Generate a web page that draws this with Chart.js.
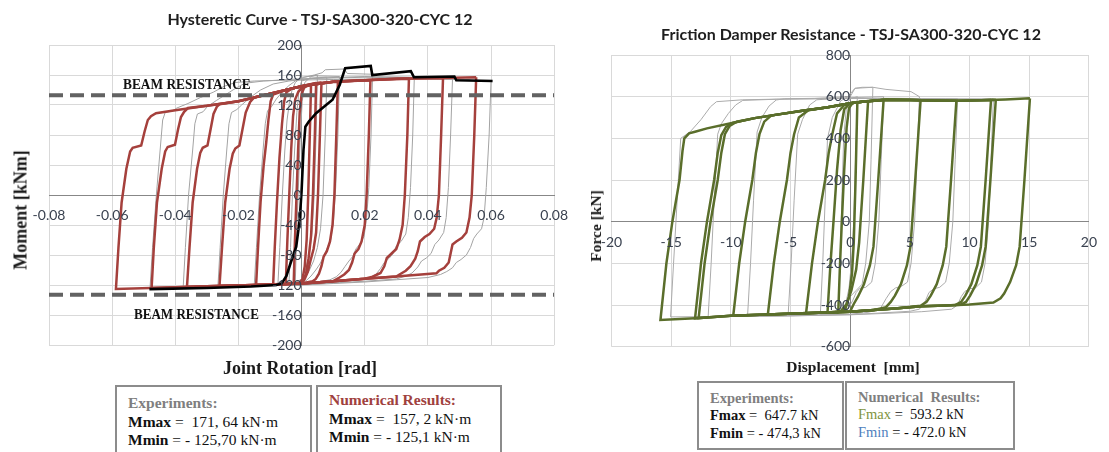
<!DOCTYPE html>
<html>
<head>
<meta charset="utf-8">
<script src="https://cdn.jsdelivr.net/npm/chart.js@4/dist/chart.umd.min.js"></script>
<style>
  html, body { margin: 0; padding: 0; background: #fff; }
  #page { position: relative; width: 1109px; height: 452px; overflow: hidden; background: #fff; }
  canvas { position: absolute; top: 0; }
  .c { position: absolute; white-space: pre; transform: translate(-50%, -50%); }
  .l { position: absolute; white-space: pre; transform: translateY(-50%); }
  .title { font-family: Lato, "Open Sans", sans-serif; font-weight: 700; font-size: 16px; color: #1e1e1e; }
  .axt { font-family: "Liberation Serif", serif; font-weight: 700; color: #1a1a1a; }
  .rot { transform: translate(-50%, -50%) rotate(-90deg); }
  .beam { font-family: "Liberation Serif", serif; font-weight: 700; font-size: 15px; color: #111;
          transform-origin: left center; }
  .box { position: absolute; border: 2px solid #8c8c8c; background: #fff; box-sizing: border-box; }
  .lg { font-family: "Liberation Serif", serif; color: #111; }
  .lg b { font-weight: 700; }
</style>
</head>
<body>
<div id="page">
  <canvas id="hyst" width="580" height="380" style="left:0px"></canvas>
  <canvas id="damper" width="529" height="380" style="left:580px"></canvas>

  <div class="c title" style="left:320px; top:18px;">Hysteretic Curve - TSJ-SA300-320-CYC 12</div>
  <div class="c title" style="left:851px; top:33px;">Friction Damper Resistance - TSJ-SA300-320-CYC 12</div>

  <div class="c axt" style="left:300px; top:368px; font-size:18px;">Joint Rotation [rad]</div>
  <div class="c axt rot" style="left:21px; top:210px; font-size:18px;">Moment [kNm]</div>
  <div class="c axt" style="left:853px; top:367px; font-size:15.5px;">Displacement  [mm]</div>
  <div class="c axt rot" style="left:596px; top:226px; font-size:15.5px;">Force [kN]</div>

  <div class="l beam" style="left:123px; top:84px; transform: translateY(-50%) scaleX(0.89);">BEAM RESISTANCE</div>
  <div class="l beam" style="left:134px; top:314px; transform: translateY(-50%) scaleX(0.87);">BEAM RESISTANCE</div>

  <!-- moment summary -->
  <div class="box" style="left:115px; top:385px; width:197px; height:80px;"></div>
  <div class="box" style="left:316px; top:385px; width:186px; height:80px;"></div>
  <div class="l lg" style="left:128px; top:403px; font-size:15.5px; color:#7f7f7f; font-weight:700;">Experiments:</div>
  <div class="l lg" style="left:128px; top:422px; font-size:15.5px;"><b>Mmax</b> =  171, 64 kN·m</div>
  <div class="l lg" style="left:128px; top:440px; font-size:15.5px;"><b>Mmin</b> = - 125,70 kN·m</div>
  <div class="l lg" style="left:329px; top:400px; font-size:15.5px; color:#a0413e; font-weight:700;">Numerical Results:</div>
  <div class="l lg" style="left:329px; top:419px; font-size:15.5px;"><b>Mmax</b> =  157, 2 kN·m</div>
  <div class="l lg" style="left:329px; top:437px; font-size:15.5px;"><b>Mmin</b> = - 125,1 kN·m</div>

  <!-- force summary -->
  <div class="box" style="left:697px; top:381px; width:147px; height:69px;"></div>
  <div class="box" style="left:845px; top:381px; width:170px; height:69px;"></div>
  <div class="l lg" style="left:710px; top:398px; font-size:14.5px; color:#7f7f7f; font-weight:700;">Experiments:</div>
  <div class="l lg" style="left:710px; top:415px; font-size:14.5px;"><b>Fmax</b> =  647.7 kN</div>
  <div class="l lg" style="left:710px; top:433px; font-size:14.5px;"><b>Fmin</b> = - 474,3 kN</div>
  <div class="l lg" style="left:858px; top:397px; font-size:14.5px; color:#7f7f7f; font-weight:700;">Numerical  Results:</div>
  <div class="l lg" style="left:858px; top:414px; font-size:14.5px;"><span style="color:#7f9441">Fmax</span> =  593.2 kN</div>
  <div class="l lg" style="left:858px; top:432px; font-size:14.5px;"><span style="color:#4f7fbd">Fmin</span> = - 472.0 kN</div>
</div>

<script>
// ---------- Hysteretic curve: joint rotation [rad] vs moment [kNm] ----------
const rotTicks = { min: -0.08, max: 0.08, step: 0.02 };
const momTicks = { min: -200, max: 200, step: 40 };
const beamResistance = 133;

// numerical model, one closed loop per amplitude
const redLoop1 = [[0.003,148],[0.0026,80],[0.0021,0],[0.0016,-60],[0.001,-95],[0.0003,-112],[-0.0005,-117],[-0.0025,-118.3],[-0.0021,-60],[-0.0016,0],[-0.0011,60],[-0.0006,110],[0,135],[0.0008,143],[0.003,148]];
const redLoop2 = [[0.0046,149.5],[0.0042,80],[0.0036,0],[0.003,-55],[0.0022,-85],[0.0014,-105],[0.0005,-114],[-0.001,-118.1],[-0.005,-118.6],[-0.0045,-60],[-0.0039,0],[-0.0033,60],[-0.0027,105],[-0.002,128],[-0.001,138],[0.001,146],[0.0046,149.5]];
const redLoop3 = [[0.0063,150],[0.0058,80],[0.0052,0],[0.0046,-50],[0.0038,-72],[0.0028,-88],[0.002,-102],[0.001,-112],[0,-118],[-0.009,-119],[-0.0085,-70],[-0.0078,-10],[-0.007,50],[-0.0062,95],[-0.0055,125],[-0.0048,137],[-0.003,142],[0,145],[0.0063,150]];
const redLoop4 = [[0.0115,151],[0.011,80],[0.0104,0],[0.0098,-40],[0.009,-62],[0.008,-75],[0.007,-82],[0.0063,-95],[0.0055,-105],[0.0045,-112],[0.0035,-115],[0,-118],[-0.0144,-119.9],[-0.0138,-70],[-0.013,-10],[-0.012,40],[-0.0112,70],[-0.0105,100],[-0.0098,125],[-0.009,134],[-0.005,140],[0,145],[0.005,149.5],[0.0115,151]];
const redLoop5 = [[0.0218,153],[0.0213,80],[0.0206,0],[0.02,-40],[0.019,-62],[0.018,-72],[0.0168,-78],[0.016,-90],[0.015,-100],[0.0135,-106],[0.012,-110],[0.01,-114.9],[0,-118],[-0.015,-119.9],[-0.026,-121.2],[-0.0252,-70],[-0.0242,-10],[-0.0228,35],[-0.0218,55],[-0.021,62],[-0.0197,66],[-0.0187,88],[-0.0177,110],[-0.0163,124],[-0.015,130],[-0.01,135],[0,145],[0.01,151],[0.0218,153]];
const redLoop6 = [[0.034,155],[0.0335,80],[0.0327,0],[0.032,-40],[0.031,-60],[0.03,-72],[0.0285,-78],[0.027,-84],[0.0262,-95],[0.025,-104],[0.0225,-109],[0.02,-111.7],[0.01,-114.9],[0,-118],[-0.015,-119.9],[-0.03,-121.7],[-0.0363,-122.5],[-0.0355,-70],[-0.0345,-10],[-0.0331,35],[-0.0321,56],[-0.0313,63],[-0.0298,66],[-0.0288,88],[-0.0279,108],[-0.0268,118],[-0.026,121],[-0.02,125],[-0.01,135],[0,145],[0.01,151],[0.02,153],[0.034,155]];
const redLoop7 = [[0.0448,156],[0.0442,80],[0.0435,0],[0.0428,-30],[0.042,-45],[0.0405,-52],[0.039,-56],[0.0375,-62],[0.0368,-75],[0.036,-85],[0.0345,-95],[0.033,-101],[0.031,-106],[0.03,-108.6],[0.02,-111.7],[0.01,-114.9],[0,-118],[-0.015,-119.9],[-0.03,-121.7],[-0.0475,-123.9],[-0.0468,-70],[-0.0458,-10],[-0.0443,35],[-0.0432,58],[-0.0424,64],[-0.0401,67],[-0.0391,88],[-0.0382,104],[-0.0372,111],[-0.036,116],[-0.03,119],[-0.02,125],[-0.01,135],[0,145],[0.01,151],[0.02,153],[0.03,155],[0.0448,156]];
const redLoop8 = [[0.0553,157],[0.0547,80],[0.0539,0],[0.0532,-30],[0.0522,-50],[0.0508,-57],[0.049,-62],[0.0478,-66],[0.0472,-78],[0.0466,-90],[0.0452,-97],[0.0435,-101],[0.0427,-104.4],[0.03,-108.6],[0.02,-111.7],[0.01,-114.9],[0,-118],[-0.015,-119.9],[-0.03,-121.7],[-0.045,-123.6],[-0.0588,-125.3],[-0.058,-70],[-0.057,-10],[-0.0555,35],[-0.0543,58],[-0.0535,63],[-0.0508,66],[-0.0497,85],[-0.0487,100],[-0.0477,105],[-0.0461,109],[-0.04,113],[-0.03,119],[-0.02,125],[-0.01,135],[0,145],[0.01,151],[0.02,153],[0.03,155],[0.045,156],[0.0553,157]];

// test records
const grayLoop1 = [[0.06,152],[0.0594,80],[0.0585,10],[0.0578,-30],[0.057,-45],[0.0555,-52],[0.0545,-58],[0.0535,-70],[0.0522,-80],[0.0505,-86],[0.049,-90],[0.0478,-97],[0.046,-102],[0.044,-106],[0.04,-110],[0.03,-113],[0.02,-116],[0.01,-118],[0,-120],[-0.02,-122],[-0.048,-123.5],[-0.0472,-70],[-0.046,0],[-0.0448,60],[-0.044,100],[-0.0432,110],[-0.041,112],[-0.0395,116],[-0.036,122],[-0.032,130],[-0.028,137],[-0.0245,145],[-0.021,150],[-0.015,152],[-0.005,153],[0.01,154],[0.03,155],[0.05,154],[0.06,152]];
const grayLoop2 = [[0.0478,155],[0.0472,80],[0.0465,10],[0.0458,-30],[0.045,-50],[0.0435,-60],[0.0422,-66],[0.041,-78],[0.0395,-84],[0.038,-88],[0.0368,-96],[0.035,-104],[0.033,-108],[0.03,-112],[0.02,-115],[0,-119.5],[-0.02,-121.5],[-0.0375,-123],[-0.0368,-70],[-0.0358,0],[-0.0345,60],[-0.0338,95],[-0.033,108],[-0.0312,111],[-0.0298,118],[-0.027,126],[-0.024,134],[-0.021,142],[-0.018,149],[-0.012,152],[0,155],[0.02,157],[0.04,156],[0.0478,155]];
const grayLoop3 = [[0.0357,157],[0.0352,80],[0.0345,10],[0.0338,-30],[0.033,-52],[0.0315,-62],[0.03,-68],[0.029,-78],[0.0278,-84],[0.0262,-90],[0.025,-98],[0.0235,-106],[0.021,-111],[0.01,-116],[0,-119],[-0.015,-121],[-0.0265,-122],[-0.0258,-70],[-0.0248,0],[-0.0237,60],[-0.023,95],[-0.0222,110],[-0.0205,114],[-0.019,120],[-0.016,131],[-0.013,140],[-0.009,148],[-0.004,152],[0.005,156],[0.02,158],[0.0357,157]];
const grayLoop4 = [[0.0225,161],[0.022,80],[0.0213,10],[0.0206,-30],[0.0198,-55],[0.0185,-65],[0.0172,-72],[0.0162,-82],[0.015,-88],[0.0138,-95],[0.0125,-103],[0.011,-109],[0.009,-113],[0.005,-116],[0,-118.5],[-0.015,-120.5],[-0.0143,-70],[-0.0133,0],[-0.0122,60],[-0.0115,95],[-0.0108,112],[-0.0095,118],[-0.008,128],[-0.006,138],[-0.004,146],[-0.002,152],[0.001,157],[0.004,160],[0.0065,163],[0.0075,167],[0.0135,168],[0.0145,162],[0.0225,161]];
const grayLoop5 = [[0.012,158],[0.0115,80],[0.0108,10],[0.0101,-35],[0.0092,-60],[0.008,-72],[0.007,-82],[0.0058,-92],[0.0045,-100],[0.003,-108],[0.0015,-114],[0,-118],[-0.0075,-119.5],[-0.0069,-70],[-0.0061,0],[-0.0053,60],[-0.0046,100],[-0.0038,125],[-0.003,140],[-0.002,150],[0,157],[0.004,159],[0.012,158]];
const grayLoop6 = [[0.008,157],[0.0075,80],[0.0068,0],[0.006,-45],[0.005,-70],[0.0038,-88],[0.0025,-100],[0.001,-110],[-0.001,-116],[-0.004,-118],[-0.0035,-70],[-0.0029,0],[-0.0022,60],[-0.0015,110],[-0.0008,140],[0,152],[0.003,156],[0.008,157]];
const grayLoop7 = [[0.005,160],[0.0046,80],[0.004,0],[0.0033,-50],[0.0024,-80],[0.0012,-100],[0,-112],[-0.002,-117],[-0.0016,-60],[-0.0011,0],[-0.0005,70],[0.0002,125],[0.001,150],[0.003,158],[0.005,160]];

// monotonic envelope
const monotonic = [[-0.0482,-125.5],[-0.03,-124],[-0.016,-122],[-0.008,-120],[-0.0063,-118],[-0.0048,-108],[-0.0035,-91],[-0.0017,-69],[-0.0006,-33],[0,5],[0.0006,60],[0.0012,91],[0.0023,98],[0.0046,109],[0.0098,127],[0.0121,147],[0.0138,169],[0.0219,172],[0.0224,160],[0.0346,165],[0.0356,157],[0.0484,158],[0.049,153],[0.0605,152]];

// ---------- Friction damper: displacement [mm] vs force [kN] ----------
const dispTicks = { min: -20, max: 20, step: 5 };
const forceTicks = { min: -600, max: 800, step: 200 };

const greenLoop1 = [[0.6,574],[0.45,200],[0.3,-100],[0.15,-250],[-0.1,-360],[-0.4,-420],[-1.0,-434],[-0.85,-200],[-0.7,0],[-0.5,250],[-0.3,450],[-0.1,545],[0.2,570],[0.6,574]];
const greenLoop2 = [[1.5,579],[1.1,200],[0.75,-100],[0.5,-230],[0.1,-330],[-0.3,-395],[-0.8,-430],[-1.9,-435.8],[-1.65,-200],[-1.4,0],[-1.1,250],[-0.8,440],[-0.5,540],[0,568],[1,576],[1.5,579]];
const greenLoop3 = [[2.8,585],[2.35,200],[1.95,-120],[1.65,-210],[1.15,-300],[0.65,-360],[0.3,-395],[0,-430],[-2,-436],[-3.7,-439.4],[-3.2,-200],[-2.7,0],[-2.1,200],[-1.8,330],[-1.5,420],[-1.1,520],[-0.5,560],[0,568],[1,576],[2,582],[2.8,585]];
const greenLoop4 = [[5.9,583],[5.45,200],[5.05,-120],[4.75,-210],[4.25,-300],[3.75,-355],[3.4,-385],[3,-410],[2,-424],[0,-432],[-2,-436],[-4,-440],[-6.9,-445.8],[-6.4,-200],[-5.9,0],[-5.3,200],[-5.0,330],[-4.7,420],[-4.3,500],[-3.5,535],[-2,548],[0,568],[1,576],[3,585],[5,584],[5.9,583]];
const greenLoop5 = [[8.9,581],[8.45,200],[8.05,-120],[7.75,-210],[7.25,-300],[6.75,-355],[6.4,-385],[5.9,-404],[4,-415],[2,-424],[0,-432],[-2,-436],[-4,-440],[-7,-446],[-9.8,-451.5],[-9.3,-200],[-8.8,0],[-8.2,200],[-7.9,330],[-7.6,420],[-7.2,480],[-6.6,510],[-6,515],[-4,532],[-2,548],[0,568],[1,576],[3,585],[5,584],[7,582],[8.9,581]];
const greenLoop6 = [[11.8,584],[11.35,200],[10.95,-120],[10.65,-210],[10.15,-300],[9.65,-355],[9.3,-385],[8.8,-400],[8,-402],[6,-406],[4,-415],[2,-424],[0,-432],[-2,-436],[-4,-440],[-7,-446],[-10,-452],[-12.7,-463],[-12.2,-200],[-11.7,0],[-11.1,200],[-10.8,330],[-10.5,420],[-10.1,460],[-9.5,480],[-8,497],[-6,515],[-4,532],[-2,548],[0,568],[1,576],[3,585],[5,584],[7,582],[9,581],[11,583],[11.8,584]];
const greenLoop7 = [[12.2,585],[11.75,200],[11.35,-120],[11.05,-210],[10.55,-300],[10.05,-355],[9.7,-385],[9.2,-399],[8,-402],[6,-406],[4,-415],[2,-424],[0,-432],[-2,-436],[-4,-440],[-7,-446],[-10,-452],[-13,-464],[-12.5,-200],[-12,0],[-11.4,200],[-11.1,330],[-10.8,415],[-10.4,455],[-9.8,475],[-8,497],[-6,515],[-4,532],[-2,548],[0,568],[1,576],[3,585],[5,584],[7,582],[9,581],[11,583],[12.2,585]];
const greenLoop8 = [[15.06,592],[14.6,200],[14.2,-120],[13.9,-210],[13.4,-290],[12.9,-345],[12.6,-368],[12,-388],[10,-398],[8,-402],[6,-406],[4,-415],[2,-424],[0,-432],[-2,-436],[-4,-440],[-7,-446],[-10,-452],[-13,-464],[-15.9,-472],[-15.4,-200],[-14.9,0],[-14.3,200],[-14.05,340],[-13.9,400],[-13.5,424],[-13,432],[-12,448],[-10,472],[-8,497],[-6,515],[-4,532],[-2,548],[0,568],[1,576],[3,585],[5,584],[7,582],[9,581],[11,583],[13,587],[15.06,592]];

const testLoop1 = [[12.0,590],[11.8,300],[11.6,0],[11.3,-200],[11.0,-290],[10.5,-318],[10.0,-322],[9.6,-335],[9.3,-360],[9.0,-400],[8.5,-420],[6,-432],[3,-440],[0,-447],[-5,-452],[-10,-455],[-15.05,-457],[-14.8,-200],[-14.5,100],[-14.2,400],[-13.4,432],[-12.5,490],[-11.7,552],[-11.2,576],[-9,585],[-6.2,588],[-3,590],[0,592],[4,592],[8,590],[12.0,590]];
const testLoop2 = [[9.0,590],[8.8,300],[8.6,0],[8.3,-200],[8.0,-290],[7.5,-315],[7.0,-322],[6.6,-340],[6.3,-380],[5.8,-420],[5,-430],[2,-440],[0,-446],[-5,-452],[-11.9,-455],[-11.65,-200],[-11.4,100],[-11.1,420],[-10.8,470],[-10.2,520],[-9.6,560],[-9.0,582],[-6,588],[-3,590],[0,592],[4,591],[9.0,590]];
const testLoop3 = [[5.8,600],[5.6,300],[5.4,0],[5.1,-200],[4.8,-290],[4.3,-310],[3.8,-318],[3.4,-335],[3.0,-370],[2.5,-420],[1.5,-435],[0,-444],[-4,-450],[-8.6,-453],[-8.35,-200],[-8.1,100],[-7.8,430],[-7.4,500],[-6.8,555],[-6.2,584],[-5.5,590],[-3,592],[0,600],[0.4,640],[1.9,645],[3,635],[5.1,624],[5.8,600]];
const testLoop4 = [[2.8,600],[2.6,300],[2.4,0],[2.1,-200],[1.8,-290],[1.3,-315],[0.8,-320],[0.5,-340],[0.2,-380],[-0.3,-430],[-1.5,-440],[-5.2,-448],[-4.95,-200],[-4.7,100],[-4.4,420],[-4.0,490],[-3.4,560],[-2.8,585],[-1.5,590],[0,595],[2.8,600]];
const testLoop5 = [[1.9,645],[1.75,300],[1.6,0],[1.3,-200],[1.0,-300],[0.5,-330],[0,-360],[-0.6,-420],[-1.2,-440],[-2.5,-444],[-2.3,-200],[-2.1,100],[-1.9,400],[-1.5,500],[-0.8,580],[-0.2,600],[0.4,640],[1.0,645],[1.9,645]];
const testLoop6 = [[0.6,600],[0.45,300],[0.3,0],[0.1,-200],[-0.1,-320],[-0.4,-400],[-1.0,-440],[-0.85,-200],[-0.7,100],[-0.55,400],[-0.3,560],[0,590],[0.6,600]];

// ---------- helpers ----------
const TICK_COLOR = '#3a4250';
const GRID_COLOR = '#d9d9d9';
const AXIS_COLOR = '#878787';

const pts = arr => arr.map(p => ({ x: p[0], y: p[1] }));

function lineSet(arr, color, width, order, extra) {
  return Object.assign({
    data: pts(arr),
    showLine: true,
    borderColor: color,
    borderWidth: width,
    pointRadius: 0,
    pointHoverRadius: 0,
    fill: false,
    tension: 0,
    order: order
  }, extra || {});
}

function axes(xr, yr, xFmt) {
  return {
    x: {
      type: 'linear', min: xr.min, max: xr.max,
      position: { y: 0 },
      grid: { color: GRID_COLOR, lineWidth: 1, drawTicks: false },
      border: { display: true, color: AXIS_COLOR, width: 1 },
      ticks: {
        stepSize: xr.step, padding: 12, color: TICK_COLOR, z: 1,
        font: { family: 'Lato', size: 14 },
        callback: xFmt
      }
    },
    y: {
      type: 'linear', min: yr.min, max: yr.max,
      position: { x: 0 },
      grid: { color: GRID_COLOR, lineWidth: 1, drawTicks: true, tickLength: 5, tickColor: AXIS_COLOR },
      border: { display: true, color: AXIS_COLOR, width: 1 },
      ticks: {
        stepSize: yr.step, padding: 9, color: TICK_COLOR, z: 1,
        font: { family: 'Lato', size: 14 },
        callback: v => (Math.abs(v) < 1e-9 ? '0' : String(Math.round(v)))
      }
    }
  };
}

const baseOpts = {
  responsive: false,
  animation: false,
  events: [],
  plugins: { legend: { display: false }, tooltip: { enabled: false }, title: { display: false } }
};

// ---------- hysteretic chart ----------
const redLoops = [redLoop1, redLoop2, redLoop3, redLoop4, redLoop5, redLoop6, redLoop7, redLoop8];
const grayLoops = [grayLoop1, grayLoop2, grayLoop3, grayLoop4, grayLoop5, grayLoop6, grayLoop7];

const hystSets = [];
grayLoops.forEach(l => hystSets.push(lineSet(l, '#a3a3a3', 1, 3)));
redLoops.forEach(l => hystSets.push(lineSet(l, '#a5403c', 2.5, 2)));
[beamResistance, -beamResistance].forEach(v => {
  hystSets.push(lineSet([[rotTicks.min, v], [rotTicks.max, v]], '#626262', 4, 1, { borderDash: [14, 7] }));
});
hystSets.push(lineSet(monotonic, '#000000', 2.6, 0));

new Chart(document.getElementById('hyst'), {
  type: 'scatter',
  data: { datasets: hystSets },
  options: Object.assign({}, baseOpts, {
    layout: { padding: { left: 49, top: 45, right: 16, bottom: 35 } },
    scales: axes(rotTicks, momTicks, v => (Math.abs(v) < 1e-9 ? '0' : v.toFixed(2)))
  })
});

// ---------- damper chart ----------
const greenLoops = [greenLoop1, greenLoop2, greenLoop3, greenLoop4, greenLoop5, greenLoop6, greenLoop7, greenLoop8];
const testLoops = [testLoop1, testLoop2, testLoop3, testLoop4, testLoop5, testLoop6];

const dampSets = [];
testLoops.forEach(l => dampSets.push(lineSet(l, '#ababab', 1, 3)));
greenLoops.forEach(l => dampSets.push(lineSet(l, '#5a6e2b', 2.5, 2)));

new Chart(document.getElementById('damper'), {
  type: 'scatter',
  data: { datasets: dampSets },
  options: Object.assign({}, baseOpts, {
    layout: { padding: { left: 31.5, top: 55, right: 8.5, bottom: 33.3 } },
    scales: axes(dispTicks, forceTicks, v => (Math.abs(v) < 1e-9 ? '0' : String(Math.round(v))))
  })
});
</script>
</body>
</html>
